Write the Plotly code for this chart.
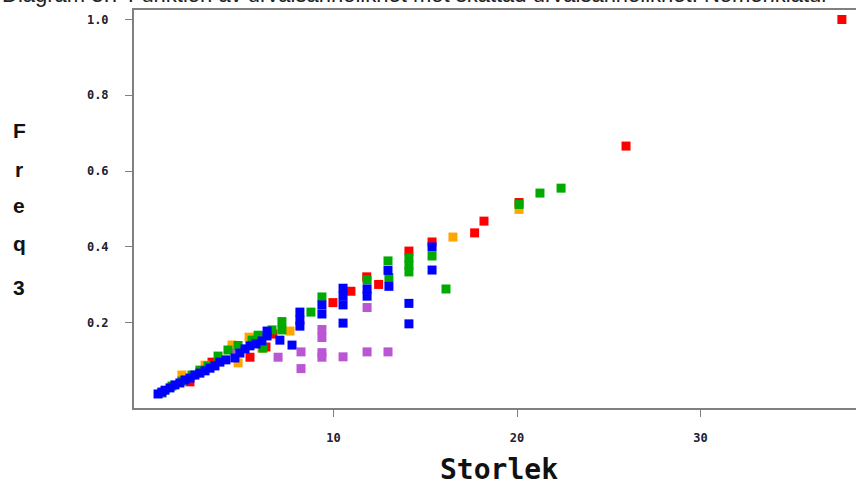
import plotly.graph_objects as go

# Size (Storlek) and inclusion frequency (Freq3) per group
violet_x = [4.47, 6.98, 8.23, 8.23, 9.37, 9.37, 9.37, 9.37, 10.52, 11.83, 11.83, 12.97]
violet_y = [0.130, 0.109, 0.123, 0.079, 0.182, 0.161, 0.121, 0.109, 0.110, 0.240, 0.123, 0.123]

red_x = [37.7, 25.94, 20.11, 18.2, 17.69, 15.37, 14.11, 12.46, 11.81, 10.95, 9.97,
         6.70, 6.32, 5.89, 5.45, 4.52, 3.38, 2.18]
red_y = [1.0, 0.666, 0.517, 0.468, 0.437, 0.413, 0.389, 0.301, 0.321, 0.283, 0.253,
         0.170, 0.136, 0.160, 0.109, 0.140, 0.096, 0.044]

orange_x = [1.74, 3.00, 4.47, 4.80, 5.40, 6.10, 7.63, 16.51, 20.11]
orange_y = [0.062, 0.088, 0.141, 0.094, 0.162, 0.133, 0.178, 0.426, 0.499]

green_x = [0.65, 1.20, 1.74, 2.29, 2.72, 3.16, 3.71, 4.25, 4.80, 5.56, 5.89, 6.16,
           6.65, 7.19, 7.19, 8.77, 9.37, 11.83, 12.97, 13.02, 14.11, 14.11, 14.11,
           15.37, 16.13, 20.11, 21.25, 22.40]
green_y = [0.0145, 0.033, 0.046, 0.062, 0.075, 0.086, 0.112, 0.128, 0.140, 0.154, 0.167, 0.133,
           0.181, 0.181, 0.203, 0.228, 0.268, 0.313, 0.363, 0.319, 0.371, 0.352, 0.334,
           0.376, 0.289, 0.512, 0.542, 0.555]

blue_x = [0.44, 0.65, 0.82, 1.09, 1.36, 1.63, 1.91, 2.18, 2.45, 2.72, 3.00, 3.27, 3.54,
          3.81, 4.14, 4.63, 4.90, 5.18, 5.45, 5.78, 6.10, 6.38, 6.38, 7.08, 7.74,
          8.17, 8.17, 8.17, 9.37, 9.37, 10.52, 10.52, 10.52, 10.52, 11.83, 11.83,
          12.97, 13.02, 14.11, 14.11, 15.37, 15.37]
blue_y = [0.012, 0.017, 0.022, 0.028, 0.036, 0.041, 0.049, 0.054, 0.062, 0.067, 0.073, 0.080, 0.086,
          0.096, 0.102, 0.107, 0.120, 0.131, 0.139, 0.144, 0.152, 0.165, 0.178, 0.154, 0.141,
          0.228, 0.207, 0.191, 0.247, 0.223, 0.291, 0.270, 0.247, 0.199, 0.289, 0.270,
          0.338, 0.296, 0.251, 0.197, 0.400, 0.339]

y_ticks = [0.2, 0.4, 0.6, 0.8, 1.0]
y_tick_text = ["0.2", "0.4", "0.6", "0.8", "1.0"]
x_ticks = [10, 20, 30]
x_tick_text = ["10", "20", "30"]

title_text = "Diagram 3.7 Funktion av urvalsannolikhet mot skattad urvalsannolikhet. Nomenklatur"
y_label = ["F", "r", "e", "q", "3"]

groups = [
    (violet_x, violet_y, "#BA55D3"),
    (red_x, red_y, "#FF0000"),
    (orange_x, orange_y, "#FFA500"),
    (green_x, green_y, "#00AA00"),
    (blue_x, blue_y, "#0000FF"),
]

fig = go.Figure()
for xs, ys, col in groups:
    fig.add_trace(go.Scatter(
        x=xs, y=ys, mode="markers",
        marker=dict(symbol="square", size=9, color=col, line=dict(width=0)),
        showlegend=False, hoverinfo="x+y",
    ))

W, H = 856, 486
ml, mr, mt, mb = 134, 0, 10, 78
plot_w = W - ml - mr
plot_h = H - mt - mb

fig.update_layout(
    width=W, height=H,
    margin=dict(l=ml, r=mr, t=mt, b=mb, pad=0),
    paper_bgcolor="white", plot_bgcolor="white",
    showlegend=False,
)

tick_font = dict(family="DejaVu Sans Mono", size=12, color="#202030", weight="bold")
fig.update_xaxes(
    range=[-0.87, 38.47], tickvals=x_ticks, ticktext=x_tick_text,
    showgrid=False, zeroline=False,
    showline=True, linecolor="#808080", linewidth=2, mirror=True,
    ticks="outside", ticklen=7, tickcolor="#808080", tickwidth=1,
    tickfont=tick_font, ticklabelstandoff=11,
)
fig.update_yaxes(
    range=[-0.025, 1.025], tickvals=y_ticks, ticktext=y_tick_text,
    showgrid=False, zeroline=False,
    showline=True, linecolor="#808080", linewidth=2, mirror=False,
    ticks="outside", ticklen=7, tickcolor="#808080", tickwidth=1,
    tickfont=tick_font, ticklabelstandoff=14,
)

# Title sits at the very top of the page, mostly above the visible area
fig.add_annotation(
    text=title_text, xref="paper", yref="paper",
    x=-ml / plot_w, xanchor="left",
    y=1 + (mt - 9.5) / plot_h, yanchor="bottom",
    showarrow=False, font=dict(family="Liberation Sans", size=22, color="#222"),
)

# Vertical, letter-by-letter axis label
letter_centers = [130.5, 169.5, 205.5, 243.5, 287.5]
for ch, py in zip(y_label, letter_centers):
    fig.add_annotation(
        text=ch, xref="paper", yref="paper",
        x=(19 - ml) / plot_w, xanchor="center",
        y=(H - mb - py) / plot_h, yanchor="middle",
        showarrow=False,
        font=dict(family="Liberation Sans", size=21, color="#111", weight="bold"),
    )

fig.add_annotation(
    text="Storlek", xref="paper", yref="paper",
    x=(499 - ml) / plot_w, xanchor="center",
    y=-(469 - (H - mb)) / plot_h, yanchor="middle",
    showarrow=False,
    font=dict(family="DejaVu Sans Mono", size=28, color="#111", weight="bold"),
)

fig.write_html("out.html")
